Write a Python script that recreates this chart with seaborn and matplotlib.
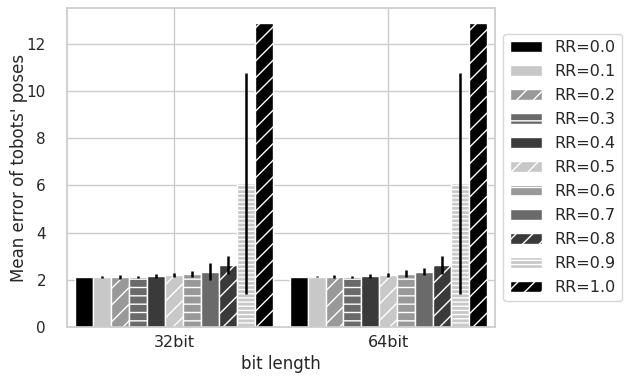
import numpy as np
import pandas as pd
import matplotlib
matplotlib.use('Agg')
import matplotlib.pyplot as plt
import seaborn as sns

sns.set_theme(style='whitegrid')
plt.rcParams['font.family'] = ['DejaVu Sans']
plt.rcParams['hatch.color'] = 'white'
plt.rcParams['hatch.linewidth'] = 1.0

bit_lengths = ['32bit', '64bit']
rr_labels = ['RR=0.0', 'RR=0.1', 'RR=0.2', 'RR=0.3', 'RR=0.4', 'RR=0.5',
             'RR=0.6', 'RR=0.7', 'RR=0.8', 'RR=0.9', 'RR=1.0']

mean_32 = [2.11, 2.12, 2.13, 2.11, 2.17, 2.20, 2.26, 2.35, 2.63, 6.09, 12.87]
err_32 = [0.0, 0.03, 0.08, 0.05, 0.09, 0.09, 0.13, 0.35, 0.40, 4.69, 0.0]
mean_64 = [2.11, 2.13, 2.14, 2.11, 2.17, 2.20, 2.26, 2.35, 2.63, 6.09, 12.87]
err_64 = [0.0, 0.02, 0.08, 0.05, 0.09, 0.09, 0.14, 0.16, 0.40, 4.69, 0.0]

colors = ['#000000', '#c8c8c8', '#999999', '#6a6a6a', '#3a3a3a', '#c8c8c8',
          '#999999', '#6a6a6a', '#3a3a3a', '#c8c8c8', '#000000']
hatches = ['', '', '//', '--', '', '//', '--', '', '//', '----', '//']

df = pd.DataFrame({
    'bit length': np.repeat(bit_lengths, len(rr_labels)),
    'RR': rr_labels * 2,
    'error': mean_32 + mean_64,
    'sd': err_32 + err_64,
})

fig = plt.figure(figsize=(6.31, 3.76), dpi=100)
ax = fig.add_axes([0.106, 0.130, 0.679, 0.849])

sns.barplot(data=df, x='bit length', y='error', hue='RR', palette=colors,
            errorbar=None, width=0.92, edgecolor='white', linewidth=1,
            legend=False, ax=ax)

bars = list(ax.containers)
for i, cont in enumerate(bars):
    sub = df[df['RR'] == rr_labels[i]]
    xs, ys = [], []
    for patch in cont.patches:
        patch.set_hatch(hatches[i])
        xs.append(patch.get_x() + patch.get_width() / 2)
        ys.append(patch.get_height())
    ax.errorbar(xs, ys, yerr=sub['sd'].values, fmt='none', ecolor='black',
                elinewidth=1.8, capsize=0, zorder=5)

ax.set_ylim(0, 13.52)
ax.set_xlim(-0.5, 1.5)
ax.xaxis.grid(True)
ax.set_axisbelow(True)
ax.tick_params(axis='x', labelsize=11.5, pad=0)
ax.tick_params(axis='y', labelsize=11, pad=9)
ax.set_ylabel("Mean error of tobots' poses", fontsize=12, labelpad=-1)
ax.set_xlabel('bit length', fontsize=12, labelpad=3.5)
ax.legend(bars, rr_labels, loc='center left', bbox_to_anchor=(1.0, 0.5),
          fontsize=11.5, labelspacing=0.56)

fig.savefig('out.png', dpi=100)
